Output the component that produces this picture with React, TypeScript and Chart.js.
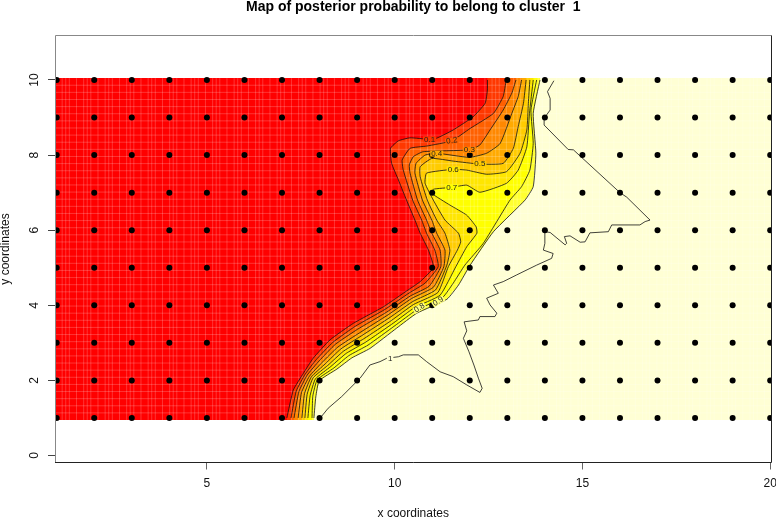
import React, { useEffect, useRef } from "react";
import { Chart, registerables } from "chart.js";

Chart.register(...registerables);

const titleText = "Map of posterior probability to belong to cluster  1";
const xTicks = [5, 10, 15, 20];
const yTicks = [0, 2, 4, 6, 8, 10];
const xSites = [1, 2, 3, 4, 5, 6, 7, 8, 9, 10, 11, 12, 13, 14, 15, 16, 17, 18, 19, 20];
const ySites = [1, 2, 3, 4, 5, 6, 7, 8, 9, 10];

const contour01 = [[12.47,10],[12.47,9.73],[12.41,9.38],[12.09,9.02],[11.56,8.67],[11.12,8.45],[10.92,8.42],[10.41,8.46],[10.10,8.38],[9.89,8.18],[9.92,7.78],[10.10,7.34],[10.28,6.89],[10.54,6.27],[10.68,5.92],[10.90,5.47],[11.03,5.07],[10.99,4.94],[10.68,4.63],[10.36,4.41],[9.70,3.96],[8.90,3.52],[8.28,3.08],[7.83,2.59],[7.57,2.19],[7.30,1.74],[7.13,1]];
const contour02 = [[12.97,10],[12.89,9.56],[12.63,9.11],[12.01,8.71],[11.52,8.38],[10.85,8.24],[10.41,8.18],[10.20,7.87],[10.23,7.60],[10.48,6.80],[10.72,6.27],[10.85,5.92],[11.07,5.47],[11.16,5.03],[10.81,4.59],[10.39,4.33],[9.74,3.89],[8.95,3.44],[8.35,3.01],[7.91,2.55],[7.62,2.17],[7.38,1.72],[7.24,1]];
const contour03 = [[13.23,10],[13.12,9.65],[12.89,9.20],[12.54,8.67],[12.27,8.27],[11.99,8.14],[10.76,8.09],[10.50,7.96],[10.39,7.74],[10.41,7.52],[10.61,6.80],[10.85,6.27],[10.99,5.92],[11.21,5.47],[11.23,5.03],[10.92,4.51],[10.42,4.25],[9.79,3.82],[9.01,3.36],[8.42,2.96],[7.99,2.52],[7.67,2.14],[7.45,1.70],[7.32,1]];
const contour04 = [[13.38,10],[13.29,9.56],[13.12,9.11],[12.81,8.31],[12.45,8.05],[11.99,7.94],[11.12,8.05],[10.81,8.00],[10.57,7.78],[10.54,7.52],[10.74,6.80],[10.99,6.27],[11.12,5.92],[11.34,5.47],[11.31,5.03],[11.03,4.48],[10.45,4.18],[9.83,3.75],[9.07,3.27],[8.49,2.89],[8.07,2.48],[7.73,2.11],[7.52,1.68],[7.43,1]];
const contour05 = [[13.50,10],[13.43,9.38],[13.29,8.76],[13.16,8.18],[12.89,7.78],[12.27,7.76],[11.56,7.84],[10.99,7.91],[10.68,7.69],[10.68,7.42],[10.87,6.80],[11.12,6.27],[11.34,5.92],[11.47,5.47],[11.39,5.07],[11.09,4.41],[10.48,4.10],[9.88,3.68],[9.12,3.19],[8.57,2.84],[8.15,2.44],[7.78,2.09],[7.60,1.65],[7.53,1]];
const contour06 = [[13.60,10],[13.56,9.38],[13.52,8.67],[13.34,8.05],[12.98,7.56],[12.45,7.49],[11.92,7.60],[11.56,7.62],[10.85,7.52],[10.81,7.25],[11.03,6.80],[11.34,6.27],[11.70,5.92],[11.76,5.69],[11.67,5.47],[11.43,5.03],[11.15,4.34],[10.50,4.02],[9.92,3.60],[9.18,3.11],[8.64,2.78],[8.22,2.40],[7.83,2.07],[7.67,1.63],[7.61,1]];
const contour07 = [[13.69,10],[13.59,9.11],[13.52,8.22],[13.29,7.60],[12.98,7.25],[12.27,7.01],[11.92,7.20],[11.52,7.14],[11.03,7.09],[10.99,6.98],[11.47,6.67],[11.92,6.40],[12.17,6.09],[12.19,5.92],[11.92,5.56],[11.63,5.03],[11.21,4.27],[10.53,3.94],[9.97,3.53],[9.23,3.02],[8.71,2.72],[8.30,2.37],[7.89,2.04],[7.75,1.60],[7.69,1]];
const contour08 = [[13.78,10],[13.63,9.20],[13.69,8.31],[13.60,7.60],[13.38,7.16],[13.07,6.80],[12.36,5.65],[11.87,5.07],[11.56,4.59],[11.28,4.21],[10.56,3.86],[10.01,3.46],[9.29,2.94],[8.78,2.66],[8.38,2.33],[7.94,2.02],[7.82,1.58],[7.80,1]];
const contour09 = [[13.87,10],[13.69,9.11],[13.76,8.05],[13.69,7.16],[13.47,6.80],[12.63,5.96],[12.01,5.07],[11.70,4.54],[11.39,4.16],[10.59,3.79],[10.05,3.39],[9.34,2.85],[8.86,2.60],[8.46,2.30],[7.99,1.99],[7.90,1.56],[7.85,1]];
const contour10 = [[8.01,0.99],[8.23,1.26],[8.59,1.57],[9.08,2.06],[9.34,2.41],[9.61,2.50],[9.79,2.59],[10.10,2.63],[10.23,2.68],[10.63,2.68],[10.85,2.50],[11.21,2.23],[11.56,2.10],[11.92,1.88],[12.27,1.68],[12.33,1.79],[12.23,2.06],[12.11,2.41],[11.98,2.76],[11.83,3.12],[11.92,3.32],[11.85,3.56],[12.23,3.61],[12.27,3.70],[12.67,3.70],[12.72,3.79],[12.54,4.01],[12.45,4.19],[12.76,4.32],[12.63,4.54],[12.89,4.63],[13.25,4.81],[13.78,5.07],[14.18,5.25],[14.22,5.38],[13.96,5.47],[14.00,5.65],[14.00,5.96],[14.14,5.94],[14.54,5.61],[14.58,5.65],[14.52,5.83],[14.67,5.85],[14.94,5.68],[15.07,5.69],[15.20,5.93],[15.69,5.96],[15.78,6.14],[16.53,6.14],[16.67,6.23],[16.80,6.27],[16.18,6.88],[16.00,7.00],[14.76,8.14],[14.62,8.15],[13.98,8.80],[13.98,8.98],[14.14,9.20],[14.14,9.51],[14.07,9.69],[14.24,9.98]];

const filledContours = [contour01, contour02, contour03, contour04, contour05, contour06, contour07, contour08, contour09];
const bandColors = ["#ff3800", "#ff6000", "#ff8800", "#ffaa00", "#ffcc00", "#ffe600", "#ffff00", "#ffff30", "#ffffd4"];

const labelTexts = ["0.1", "0.2", "0.3", "0.4", "0.5", "0.6", "0.7", "0.8", "0.9", "1"];
const labelX = [10.93, 11.52, 11.99, 11.12, 12.27, 11.56, 11.52, 10.66, 11.16, 9.88];
const labelY = [8.42, 8.38, 8.14, 8.04, 7.76, 7.62, 7.14, 3.93, 4.10, 2.58];
const labelAngle = [0, -8, 0, 0, 0, 0, 0, -32, -32, 0];
const labelBg = ["#ff3800", "#ff6000", "#ff8800", "#ffaa00", "#ffcc00", "#ffe600", "#ffff00", "#ffff80", "#ffff80", "#ffffd4"];

const imageLeft = 0.955;
const imageRight = 20.035;
const imageTop = 10.05;
const imageBottom = 0.945;
const seamCellsX = 200;
const seamCellsY = 48;
const seamPattern = [2, 3, 4, 6];

const toPts = (a: number[][]) => a.map(([x, y]) => ({ x, y }));

function seamPoints() {
  const pts: any[] = [];
  const w = (imageRight - imageLeft) / seamCellsX;
  for (let i = 0; i < seamCellsX; i++) {
    if (!seamPattern.includes(i % 6 === 0 ? 6 : i % 6)) continue;
    const x = imageLeft + i * w;
    pts.push({ x, y: imageBottom }, { x, y: imageTop }, { x: null, y: null });
  }
  const h = (imageTop - imageBottom) / seamCellsY;
  for (let j = 1; j < seamCellsY; j++) {
    const y = imageTop - j * h;
    pts.push({ x: imageLeft, y }, { x: imageRight, y }, { x: null, y: null });
  }
  return pts;
}

export default function App() {
  const ref = useRef<HTMLCanvasElement>(null);
  useEffect(() => {
    const layers: any[] = [];
    layers.push({
      data: toPts([[imageLeft, imageTop], [imageRight, imageTop], [imageRight, imageBottom], [imageLeft, imageBottom]]),
      showLine: true, fill: "shape", backgroundColor: "#ff0000", borderWidth: 0, pointRadius: 0,
    });
    filledContours.forEach((c, i) => {
      const poly = [[c[0][0], imageTop], ...c, [c[c.length - 1][0], imageBottom], [imageRight, imageBottom], [imageRight, imageTop]];
      layers.push({ data: toPts(poly), showLine: true, fill: "shape", backgroundColor: bandColors[i], borderWidth: 0, pointRadius: 0 });
    });
    layers.push({ data: seamPoints(), showLine: true, fill: false, borderColor: "rgba(255,255,255,0.2)", borderWidth: 1, pointRadius: 0, spanGaps: false });
    filledContours.forEach((c) => {
      layers.push({ data: toPts(c), showLine: true, fill: false, borderColor: "#111", borderWidth: 0.8, pointRadius: 0, tension: 0.15 });
    });
    layers.push({ data: toPts(contour10), showLine: true, fill: false, borderColor: "#111", borderWidth: 0.8, pointRadius: 0 });
    layers.push({
      data: xSites.flatMap((x) => ySites.map((y) => ({ x, y }))),
      showLine: false, pointRadius: 3, pointBackgroundColor: "#000", pointBorderWidth: 0,
    });
    layers.forEach((d, i) => { d.order = layers.length - i; });

    const decor = {
      id: "decor",
      afterDatasetsDraw(chart: any) {
        const { ctx, chartArea: a, scales } = chart;
        ctx.save();
        ctx.font = "8px 'Liberation Sans'";
        ctx.textAlign = "center";
        ctx.textBaseline = "middle";
        labelTexts.forEach((t, i) => {
          ctx.save();
          ctx.translate(scales.x.getPixelForValue(labelX[i]), scales.y.getPixelForValue(labelY[i]));
          ctx.rotate((labelAngle[i] * Math.PI) / 180);
          const w = ctx.measureText(t).width + 2;
          ctx.fillStyle = labelBg[i];
          ctx.fillRect(-w / 2, -3, w, 6);
          ctx.fillStyle = "#222";
          ctx.fillText(t, 0, 0);
          ctx.restore();
        });
        ctx.lineWidth = 1;
        ctx.strokeStyle = "#888";
        ctx.beginPath();
        ctx.moveTo(a.left + 0.5, a.bottom);
        ctx.lineTo(a.left + 0.5, a.top);
        ctx.lineTo(a.right, a.top);
        ctx.stroke();
        ctx.strokeStyle = "#222";
        ctx.beginPath();
        ctx.moveTo(a.left, a.bottom);
        ctx.lineTo(a.right, a.bottom);
        ctx.lineTo(a.right, a.top);
        ctx.stroke();
        ctx.restore();
      },
    };

    const tickFont = { family: "'Liberation Sans'", size: 12 };
    const chart = new Chart(ref.current as HTMLCanvasElement, {
      type: "scatter",
      data: { datasets: layers },
      plugins: [decor],
      options: {
        animation: false,
        responsive: false,
        layout: { padding: { left: 0, right: 4.5, top: 0, bottom: 0 } },
        plugins: {
          legend: { display: false },
          tooltip: { enabled: false },
          title: {
            display: true, text: titleText, color: "#000", fullSize: false,
            font: { family: "'Liberation Sans'", size: 14, weight: "bold", lineHeight: 1 },
            padding: { top: 0, bottom: 21.5 },
          },
        },
        scales: {
          x: {
            type: "linear", min: 0.955, max: 20.035,
            afterBuildTicks(s: any) { s.ticks = xTicks.map((value) => ({ value })); },
            afterFit(s: any) { s.height = 55.5; s.paddingLeft = 0; s.paddingRight = 0; },
            grid: { drawOnChartArea: false, drawTicks: true, tickLength: 7, tickColor: "#666" },
            border: { display: false },
            ticks: { color: "#111", font: tickFont, padding: 7, maxRotation: 0, autoSkip: false },
            title: { display: true, text: "x coordinates", color: "#111", font: { ...tickFont, lineHeight: 1 }, padding: { top: 0, bottom: -2 } },
          },
          y: {
            type: "linear", min: -0.186, max: 11.185,
            afterBuildTicks(s: any) { s.ticks = yTicks.map((value) => ({ value })); },
            afterFit(s: any) { s.width = 55; s.paddingTop = 0; s.paddingBottom = 0; },
            grid: { drawOnChartArea: false, drawTicks: true, tickLength: 7, tickColor: "#444" },
            border: { display: false },
            ticks: { color: "#111", font: tickFont, padding: 7, minRotation: 90, maxRotation: 90, crossAlign: "center", autoSkip: false },
            title: { display: true, text: "y coordinates", color: "#111", font: { ...tickFont, lineHeight: 1 }, padding: 0 },
          },
        },
      } as any,
    } as any);
    return () => chart.destroy();
  }, []);
  return (
    <div style={{ position: "absolute", left: 0, top: 0, width: 776, height: 518, background: "#fff" }}>
      <canvas ref={ref} width={776} height={518} style={{ display: "block" }} />
    </div>
  );
}
